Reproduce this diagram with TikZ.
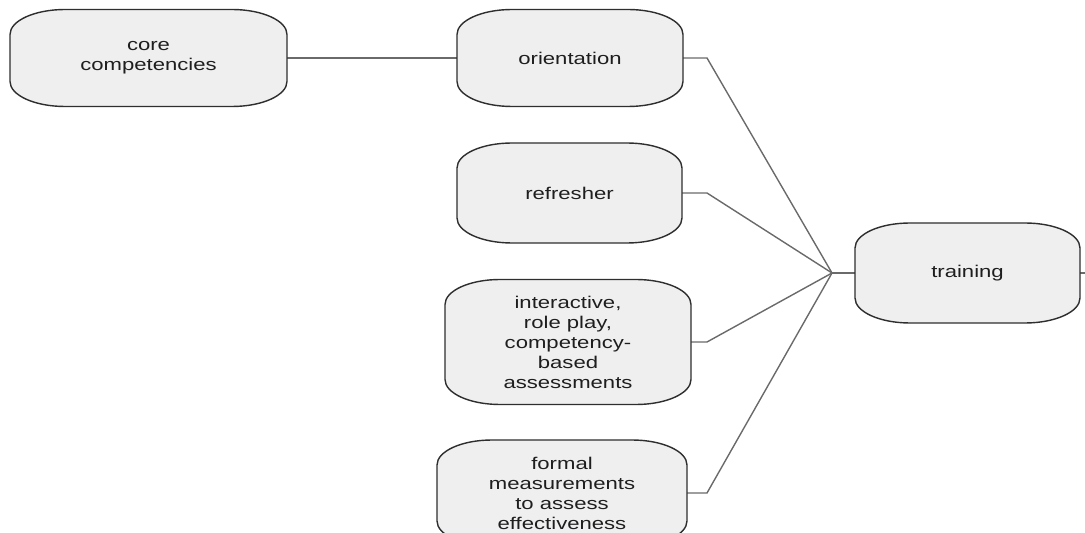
\documentclass[tikz,border=0pt]{standalone}
\usepackage{fontspec}
\setmainfont{Liberation Sans}[FakeStretch=1.3]
\usetikzlibrary{backgrounds}
\definecolor{boxfill}{HTML}{EFEFEF}
\definecolor{boxline}{HTML}{2E2E2E}
\definecolor{linkcol}{HTML}{6A6A6A}
\definecolor{txtcol}{HTML}{1E1E1E}
\newcommand{\softbox}[1]{%
 \path[shapeline] ([xshift=55pt]#1.north west) -- ([xshift=-55pt]#1.north east)
   arc[start angle=90,end angle=0,x radius=55pt,y radius=25pt]
   -- ([yshift=25pt]#1.south east)
   arc[start angle=0,end angle=-90,x radius=55pt,y radius=25pt]
   -- ([xshift=55pt]#1.south west)
   arc[start angle=270,end angle=180,x radius=55pt,y radius=25pt]
   -- ([yshift=-25pt]#1.north west)
   arc[start angle=180,end angle=90,x radius=55pt,y radius=25pt] -- cycle;}
\begin{document}
\begin{tikzpicture}[x=1pt,y=1pt,
  box/.style={inner sep=0pt, outer sep=0pt, align=center, text=txtcol, font=\fontsize{17}{20}\selectfont},
  link/.style={draw=linkcol, line width=1.4pt},
  shapeline/.style={fill=boxfill, draw=boxline, line width=1.4pt}]
\useasboundingbox (0,0) rectangle (1085,533);
\node[box, minimum width=277pt, minimum height=97pt] (core) at (148.5,475) {core\\competencies};
\node[box, minimum width=226pt, minimum height=97pt] (orient) at (570,475) {orientation};
\node[box, minimum width=225pt, minimum height=100pt] (refr) at (569.5,340) {refresher};
\node[box, minimum width=246pt, minimum height=125pt] (inter) at (568,191) {interactive,\\role play,\\competency-\\based\\assessments};
\node[box, minimum width=250pt, minimum height=106pt] (formal) at (562,40) {formal\\measurements\\to assess\\effectiveness};
\node[box, minimum width=225pt, minimum height=100pt] (train) at (967.5,260) {training};
\coordinate (hub) at (832,260);
\coordinate (bendx) at (707,0);
\coordinate (stubend) at (1092,260);
\begin{scope}[on background layer]
\draw[link] (core.east) -- (orient.west);
\draw[link] (orient.east) -- (orient.east -| bendx) -- (hub);
\draw[link] (refr.east) -- (refr.east -| bendx) -- (hub);
\draw[link] (inter.east) -- (inter.east -| bendx) -- (hub);
\draw[link] (formal.east) -- (formal.east -| bendx) -- (hub);
\draw[link] (hub) -- (train.west);
\draw[link] (train.east) -- (stubend);
\foreach \n in {core,orient,refr,inter,formal,train} {\softbox{\n}}
\end{scope}
\end{tikzpicture}
\end{document}
